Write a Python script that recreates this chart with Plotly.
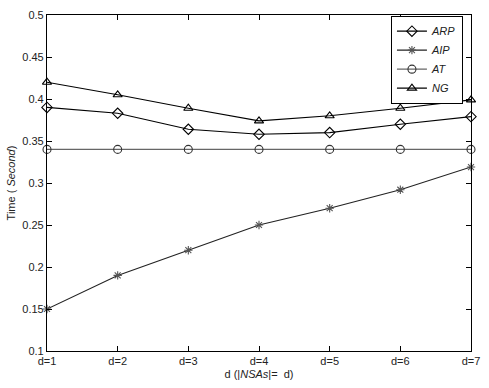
import plotly.graph_objects as go

categories = ["d=1", "d=2", "d=3", "d=4", "d=5", "d=6", "d=7"]
x_pos = [1, 2, 3, 4, 5, 6, 7]
arp = [0.390, 0.383, 0.364, 0.358, 0.360, 0.370, 0.379]
aip = [0.150, 0.190, 0.220, 0.250, 0.270, 0.292, 0.319]
at = [0.340, 0.340, 0.340, 0.340, 0.340, 0.340, 0.340]
ng = [0.420, 0.405, 0.389, 0.374, 0.380, 0.389, 0.399]
y_ticks = [0.1, 0.15, 0.2, 0.25, 0.3, 0.35, 0.4, 0.45, 0.5]
y_tick_text = ["0.1", "0.15", "0.2", "0.25", "0.3", "0.35", "0.4", "0.45", "0.5"]

fig = go.Figure()
series = [
    ("ARP", arp, "diamond-open", "black", "black", 8),
    ("AIP", aip, "asterisk-open", "#222222", "#555555", 7),
    ("AT", at, "circle-open", "#666666", "#333333", 8),
    ("NG", ng, "triangle-up-open", "black", "black", 8),
]
for name, vals, sym, lc, mc, ms in series:
    fig.add_trace(go.Scatter(
        x=x_pos, y=vals, name=name, mode="lines+markers",
        line=dict(color=lc, width=1.1),
        marker=dict(symbol=sym, size=ms, color=mc, line=dict(color=mc, width=1.1)),
        cliponaxis=False,
    ))

fig.update_layout(
    width=489, height=388,
    margin=dict(l=47, r=9, t=9, b=37),
    paper_bgcolor="white", plot_bgcolor="white",
    font=dict(family="Liberation Sans, Arial, sans-serif", size=11, color="#222222"),
    showlegend=True,
    legend=dict(
        x=0.981, y=0.998, xanchor="right", yanchor="top",
        bordercolor="black", borderwidth=1, bgcolor="white",
        font=dict(size=11, style="italic"),
        tracegroupgap=0, itemwidth=30,
    ),
)
fig.update_xaxes(
    range=[1, 7], tickmode="array", tickvals=x_pos, ticktext=categories,
    ticks="inside", ticklen=5, tickcolor="black",
    showline=True, linecolor="black", linewidth=1.2, mirror="ticks",
    showgrid=False, zeroline=False,
    title=dict(text="d (|<i>NSAs</i>|=  d)", standoff=4, font=dict(size=11)),
)
fig.update_yaxes(
    range=[0.1, 0.5], tickmode="array", tickvals=y_ticks, ticktext=y_tick_text,
    ticks="inside", ticklen=5, tickcolor="black",
    showline=True, linecolor="black", linewidth=1.2, mirror="ticks",
    showgrid=False, zeroline=False,
    title=dict(text="Time ( <i>Second</i>)", standoff=4, font=dict(size=11)),
)

fig.write_html("out.html")
